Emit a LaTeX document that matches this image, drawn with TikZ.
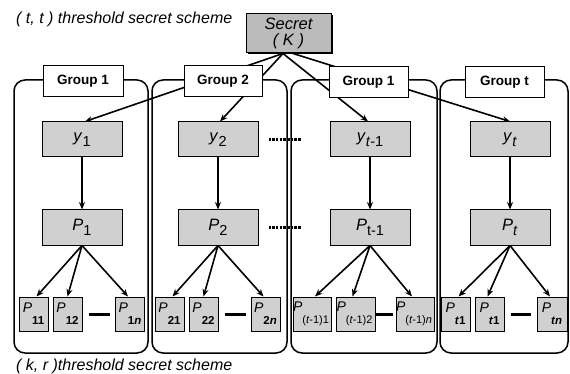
\documentclass[tikz,border=0pt]{standalone}
\usepackage{fontspec}
\setmainfont{Liberation Sans}
\usetikzlibrary{arrows.meta}
\definecolor{boxgray}{HTML}{D0D0D0}
\definecolor{secgray}{HTML}{BBBBBB}
\tikzset{
  container/.style={draw, line width=1.5pt, rounded corners=11pt},
  grplab/.style={draw, line width=1pt, fill=white, minimum width=79pt, minimum height=31pt, inner sep=0pt, font=\fontsize{13.5}{15}\selectfont\bfseries},
  graybox/.style={draw, line width=1pt, fill=boxgray, minimum width=80pt, minimum height=35pt, inner sep=0pt, font=\fontsize{16.5}{18}\selectfont},
  smallbox/.style={draw, line width=1pt, fill=boxgray, minimum width=29pt, minimum height=34pt, inner sep=0pt, font=\fontsize{14}{15}\selectfont},
  secbox/.style={draw, line width=1pt, fill=secgray, minimum width=85pt, minimum height=39pt, inner sep=0pt, align=center, font=\fontsize{16.5}{18}\selectfont\itshape},
  arr/.style={line width=1.6pt, -{Stealth[length=7.5pt,width=6pt]}},
  dotline/.style={line width=3pt, dash pattern=on 2.5pt off 1.2pt},
  sepdash/.style={line width=3pt},
  caption/.style={anchor=west, inner sep=0pt, font=\fontsize{16}{18}\selectfont\itshape}
}
\newcommand{\sub}[2]{\textit{#1}\raisebox{-4.5pt}{\fontsize{14.5}{16}\selectfont #2}}
\newcommand{\ssub}[2]{\raisebox{5pt}{\textit{P}}\raisebox{-7pt}{\fontsize{11.5}{13}\selectfont\bfseries #2}}
\newcommand{\lsub}[2]{\hspace*{-2pt}\raisebox{5pt}{\textit{P}}\raisebox{-7pt}{\fontsize{11}{13}\selectfont #2}}
\begin{document}
\begin{tikzpicture}[x=1pt,y=-1pt]
\useasboundingbox (0,0) rectangle (570,374);
% containers
\draw[container] (14,80) rectangle (148,353);
\draw[container] (152,80) rectangle (287,353);
\draw[container] (291,80) rectangle (437,353);
\draw[container] (440,80) rectangle (568,353);
% captions
\node[caption] (cap1) at (16,19) {( t, t ) threshold secret scheme};
\node[caption] (cap2) at (16,366) {( k, r )threshold secret scheme};
% secret
\fill[black] (247.5,15.5) rectangle (332.5,54.5);
\node[secbox] (secret) at (288.5,33.5) {Secret\\[-2pt]( K )};
% y boxes
\node[graybox] (y1) at (82,139.5) {\sub{y}{1}};
\node[graybox] (y2) at (218,139.5) {\sub{y}{2}};
\node[graybox] (yt1) at (370,139.5) {\sub{y}{\textit{t}-1}};
\node[graybox] (yt) at (510,139.5) {\sub{y}{\textit{t}}};
% P boxes
\node[graybox] (P1) at (82,227.5) {\sub{P}{1}};
\node[graybox] (P2) at (218,227.5) {\sub{P}{2}};
\node[graybox] (Pt1) at (370,227.5) {\sub{P}{t-1}};
\node[graybox] (Pt) at (510,227.5) {\sub{P}{\textit{t}}};
% arrows secret -> y (group labels drawn afterwards cover them)
\draw[arr] ([xshift=-5.5pt]secret.south) -- ([xshift=3pt]y1.north);
\draw[arr] ([xshift=-5.5pt]secret.south) -- ([xshift=2pt]y2.north);
\draw[arr] ([xshift=-5.5pt]secret.south) -- ([xshift=-2pt]yt1.north);
\draw[arr] ([xshift=4.5pt]secret.south) -- (yt.north);
% group labels
\node[grplab, minimum width=80pt] (g1) at (83,81.5) {Group 1};
\node[grplab, minimum width=78pt] (g2) at (223,81.5) {Group 2};
\node[grplab] (g3) at (368.5,82) {Group 1};
\node[grplab] (g4) at (504.5,82) {Group t};
% y -> P
\draw[arr] (y1) -- (P1);
\draw[arr] (y2) -- (P2);
\draw[arr] (yt1) -- (Pt1);
\draw[arr] (yt) -- (Pt);
% small boxes
\node[smallbox] (p11) at (33.5,314) {\ssub{P}{11}};
\node[smallbox] (p12) at (67.5,314) {\ssub{P}{12}};
\node[smallbox] (p1n) at (130,314) {\ssub{P}{1\textit{n}}};
\node[smallbox] (p21) at (169.5,314) {\ssub{P}{21}};
\node[smallbox] (p22) at (203.5,314) {\ssub{P}{22}};
\node[smallbox] (p2n) at (265.5,314) {\ssub{P}{2\textit{n}}};
\node[smallbox, minimum width=38pt] (pa1) at (312,314) {\lsub{P}{(\textit{t}-1)1}};
\node[smallbox, minimum width=39pt] (pa2) at (355.5,314) {\lsub{P}{(\textit{t}-1)2}};
\node[smallbox, minimum width=38pt] (pan) at (415,314) {\lsub{P}{(\textit{t}-1)\textit{n}}};
\node[smallbox] (pt1) at (455.5,314) {\ssub{P}{\textit{t}1}};
\node[smallbox] (pt1b) at (489.5,314) {\ssub{P}{\textit{t}1}};
\node[smallbox, minimum width=30pt] (ptn) at (552,314) {\ssub{P}{\textit{tn}}};
% P -> small
\draw[arr] (P1.south) -- ([xshift=3pt]p11.north);
\draw[arr] (P1.south) -- (p12.north);
\draw[arr] (P1.south) -- ([xshift=-2pt]p1n.north);
\draw[arr] (P2.south) -- ([xshift=3pt]p21.north);
\draw[arr] (P2.south) -- (p22.north);
\draw[arr] (P2.south) -- ([xshift=-2pt]p2n.north);
\draw[arr] (Pt1.south) -- ([xshift=3pt]pa1.north);
\draw[arr] (Pt1.south) -- ([xshift=-3pt]pa2.north);
\draw[arr] (Pt1.south) -- ([xshift=-3pt]pan.north);
\draw[arr] (Pt.south) -- ([xshift=3pt]pt1.north);
\draw[arr] (Pt.south) -- ([xshift=-2pt]pt1b.north);
\draw[arr] (Pt.south) -- ([xshift=-2pt]ptn.north);
% dashes between small boxes
\draw[sepdash] ([xshift=6pt]p12.east) -- ([xshift=-5pt]p1n.west);
\draw[sepdash] ([xshift=6pt]p22.east) -- ([xshift=-5pt]p2n.west);
\draw[sepdash] (pa2.east) -- ([xshift=-3pt]pan.west);
\draw[sepdash] ([xshift=6pt]pt1b.east) -- ([xshift=-6pt]ptn.west);
% dotted continuation lines
\draw[dotline] ([xshift=10pt]y2.east) -- ([xshift=-28pt]yt1.west);
\draw[dotline] ([xshift=10pt]P2.east) -- ([xshift=-28pt]Pt1.west);
\end{tikzpicture}
\end{document}
